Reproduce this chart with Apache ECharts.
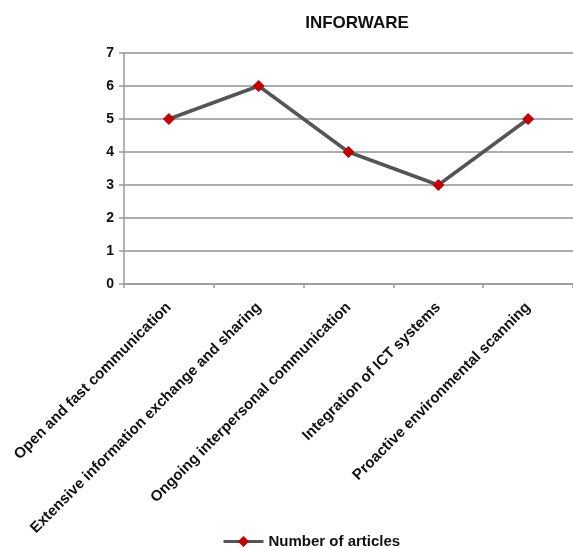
<!DOCTYPE html>
<html>
<head>
<meta charset="utf-8">
<script src="https://cdn.jsdelivr.net/npm/echarts@6/dist/echarts.min.js"></script>
<style>
  html, body { margin: 0; padding: 0; background: #fff; }
  #chart { width: 573px; height: 548px; }
</style>
</head>
<body>
<div id="chart"></div>
<script>
// Article counts per inforware dimension
const categories = [
  'Open and fast communication',
  'Extensive information exchange and sharing',
  'Ongoing interpersonal communication',
  'Integration of ICT systems',
  'Proactive environmental scanning'
];
const articleCounts = [5, 6, 4, 3, 5];
const seriesName = 'Number of articles';
const chartTitle = 'INFORWARE';

const font = 'Liberation Sans, Arial, sans-serif';
const chart = echarts.init(document.getElementById('chart'), null, { renderer: 'canvas' });

chart.setOption({
  animation: false,
  backgroundColor: '#ffffff',
  title: {
    text: chartTitle,
    left: 352,
    top: 10,
    textAlign: 'center',
    textStyle: { fontFamily: font, fontWeight: 'bold', fontSize: 17, color: '#111' }
  },
  legend: {
    data: [seriesName],
    left: 217,
    top: 529,
    itemWidth: 40,
    itemHeight: 14,
    itemGap: 5,
    lineStyle: { width: 3, color: '#555555' },
    textStyle: { fontFamily: font, fontWeight: 'bold', fontSize: 15, color: '#111' }
  },
  grid: { left: 124, top: 53, width: 450, height: 231, containLabel: false },
  xAxis: {
    type: 'category',
    data: categories,
    boundaryGap: true,
    axisLine: { lineStyle: { color: '#9a9a9a', width: 1.5 } },
    axisTick: { show: true, length: 4, lineStyle: { color: '#9a9a9a', width: 1.5 } },
    axisLabel: {
      rotate: 45,
      margin: 21,
      interval: 0,
      fontFamily: font,
      fontWeight: 'bold',
      fontSize: 15,
      color: '#111'
    },
    splitLine: { show: false }
  },
  yAxis: {
    type: 'value',
    min: 0,
    max: 7,
    interval: 1,
    axisLine: { show: true, lineStyle: { color: '#9a9a9a', width: 1.5 } },
    axisTick: { show: true, length: 5, lineStyle: { color: '#9a9a9a', width: 1.5 } },
    axisLabel: {
      margin: 10,
      fontFamily: font,
      fontWeight: 'bold',
      fontSize: 14,
      color: '#111'
    },
    splitLine: { show: true, lineStyle: { color: '#adadad', width: 2 } }
  },
  series: [{
    name: seriesName,
    type: 'line',
    data: articleCounts,
    symbol: 'diamond',
    symbolSize: 11,
    lineStyle: { color: '#555555', width: 3.5 },
    itemStyle: { color: '#c40000', borderColor: '#c40000' },
    z: 3
  }]
});
</script>
</body>
</html>
